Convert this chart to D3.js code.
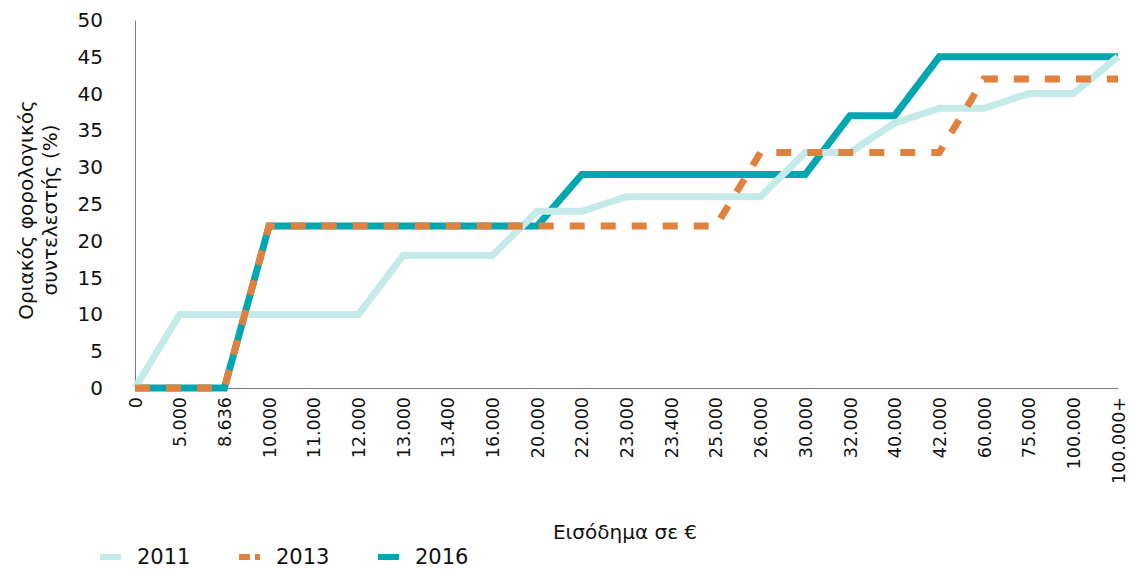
<!DOCTYPE html>
<html>
<head>
<meta charset="utf-8">
<script src="https://cdn.jsdelivr.net/npm/d3@7"></script>
<style>
  body { margin: 0; background: #fff; }
  .chart { width: 1129px; height: 571px; }
  text { font-family: "DejaVu Sans", Lato, sans-serif; fill: #111; }
</style>
</head>
<body>
<div class="chart"></div>
<script>
// income brackets (x categories)
const categories = ['0', '5.000', '8.636', '10.000', '11.000', '12.000', '13.000', '13.400', '16.000',
  '20.000', '22.000', '23.000', '23.400', '25.000', '26.000', '30.000', '32.000', '40.000',
  '42.000', '60.000', '75.000', '100.000', '100.000+'];

// marginal tax rate (%) per year
const rates2011 = [0, 10, 10, 10, 10, 10, 18, 18, 18, 24, 24, 26, 26, 26, 26, 32, 32, 36, 38, 38, 40, 40, 45];
const rates2013 = [0, 0, 0, 22, 22, 22, 22, 22, 22, 22, 22, 22, 22, 22, 32, 32, 32, 32, 32, 42, 42, 42, 42];
const rates2016 = [0, 0, 0, 22, 22, 22, 22, 22, 22, 22, 29, 29, 29, 29, 29, 29, 37, 37, 45, 45, 45, 45, 45];

const yTicks = [0, 5, 10, 15, 20, 25, 30, 35, 40, 45, 50];

const width = d3.select('.chart').node().clientWidth;
const height = d3.select('.chart').node().clientHeight;

const svg = d3.select('.chart')
    .append('svg')
    .attr('width', width)
    .attr('height', height);

const plotLeft = 135, plotRight = 1118, plotTop = 20, plotBottom = 388;

const x = d3.scalePoint().domain(categories).range([plotLeft, plotRight]);
const y = d3.scaleLinear().domain([0, 50]).range([plotBottom, plotTop]);

// axes
const yAxis = svg.append('g')
    .attr('transform', `translate(${plotLeft},0)`)
    .call(d3.axisLeft(y).tickValues(yTicks).tickSize(0).tickPadding(32));
yAxis.select('.domain').attr('stroke', '#7f7f7f');
yAxis.selectAll('text').style('font-size', '20px').attr('fill', '#111');

const xAxis = svg.append('g')
    .attr('transform', `translate(0,${plotBottom})`)
    .call(d3.axisBottom(x).tickSize(0).tickPadding(0));
xAxis.select('.domain').attr('stroke', '#7f7f7f');
xAxis.selectAll('text')
    .style('font-size', '17.5px')
    .attr('fill', '#111')
    .attr('text-anchor', 'end')
    .attr('transform', 'rotate(-90)')
    .attr('x', -9)
    .attr('y', 0)
    .attr('dy', '0.35em');

// series
const series = [
  { name: '2016', values: rates2016, color: '#00a6b0', dash: null },
  { name: '2011', values: rates2011, color: '#c4ebe9', dash: null },
  { name: '2013', values: rates2013, color: '#e0823d', dash: '15,16' }
];

const line = d3.line()
    .x((d, i) => x(categories[i]))
    .y(d => y(d));

series.forEach(s => {
  svg.append('path')
      .datum(s.values)
      .attr('d', line)
      .attr('fill', 'none')
      .attr('stroke', s.color)
      .attr('stroke-width', 7)
      .attr('stroke-linejoin', 'miter')
      .attr('stroke-dasharray', s.dash);
});

// axis titles
const yTitle = svg.append('text')
    .attr('transform', 'translate(26,210) rotate(-90)')
    .attr('text-anchor', 'middle')
    .style('font-size', '20px');
yTitle.append('tspan').attr('x', 0).attr('dy', '0.35em').text('Οριακός φορολογικός');
yTitle.append('tspan').attr('x', 0).attr('dy', '1.2em').text('συντελεστής (%)');

svg.append('text')
    .attr('x', 625)
    .attr('y', 532)
    .attr('dy', '0.35em')
    .attr('text-anchor', 'middle')
    .style('font-size', '20px')
    .text('Εισόδημα σε €');

// legend
const legendItems = [
  { name: '2011', color: '#c4ebe9', dash: null, x: 100 },
  { name: '2013', color: '#e0823d', dash: '11,5', x: 239 },
  { name: '2016', color: '#00a6b0', dash: null, x: 378 }
];
legendItems.forEach(d => {
  svg.append('line')
      .attr('x1', d.x).attr('x2', d.x + 21)
      .attr('y1', 557).attr('y2', 557)
      .attr('stroke', d.color)
      .attr('stroke-width', 6)
      .attr('stroke-dasharray', d.dash);
  svg.append('text')
      .attr('x', d.x + 37)
      .attr('y', 557)
      .attr('dy', '0.35em')
      .style('font-size', '21px')
      .text(d.name);
});
</script>
</body>
</html>
